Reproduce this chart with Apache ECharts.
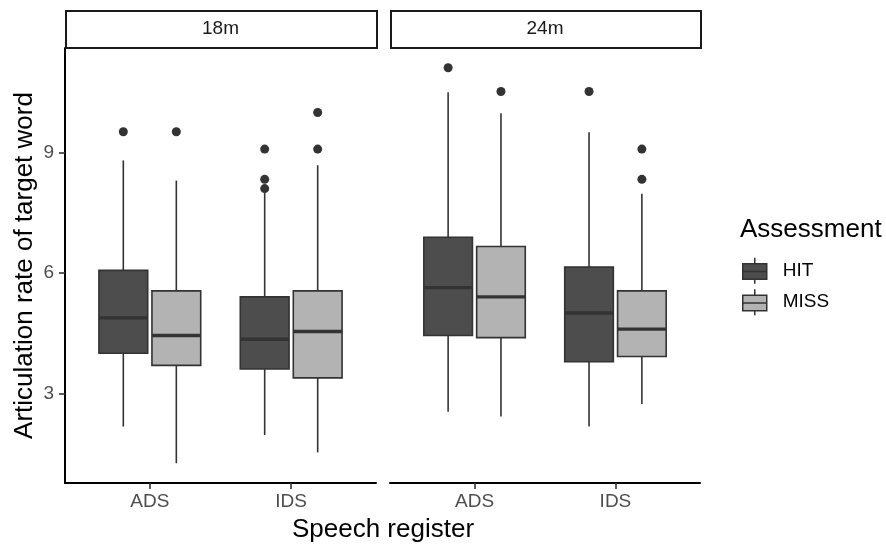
<!DOCTYPE html>
<html><head><meta charset="utf-8">
<script src="https://cdn.jsdelivr.net/npm/echarts@6/dist/echarts.min.js"></script>
<style>html,body{margin:0;padding:0;background:#fff}#c{width:886px;height:546px}</style>
</head><body><div id="c"></div>
<script>
// ---------- data ----------
const categories = ['ADS', 'IDS'];
const facets = ['18m', '24m'];
const groups = ['HIT', 'MISS'];
const yTicks = [3, 6, 9];
// box stats per category: [lower whisker, Q1, median, Q3, upper whisker]
const hit18m = [[2.19, 4.01, 4.89, 6.07, 8.80], [1.98, 3.62, 4.36, 5.41, 7.99]];
const miss18m = [[1.28, 3.71, 4.45, 5.56, 8.30], [1.55, 3.40, 4.55, 5.56, 8.68]];
const hit24m = [[2.56, 4.45, 5.64, 6.89, 10.49], [2.19, 3.80, 5.01, 6.15, 9.50]];
const miss24m = [[2.44, 4.40, 5.41, 6.66, 9.97], [2.75, 3.93, 4.61, 5.56, 7.97]];
// outliers: [category index, value]
const hitOut18m = [[0, 9.51], [1, 9.08], [1, 8.33], [1, 8.10]];
const missOut18m = [[0, 9.51], [1, 9.99], [1, 9.08]];
const hitOut24m = [[0, 11.10], [1, 10.51]];
const missOut24m = [[0, 10.51], [1, 9.08], [1, 8.33]];

// ---------- styles ----------
const FONT = "'Liberation Sans', Arial, sans-serif";
const FILL = { HIT: '#4D4D4D', MISS: '#B3B3B3' };
const LINE = '#333333';
const DODGE = 0.1875;   // half dodge width (category units)
const BOX_W = 0.345;    // box width (category units)

const stats = [[hit18m, miss18m], [hit24m, miss24m]];
const outs = [[hitOut18m, missOut18m], [hitOut24m, missOut24m]];

const allVals = [];
stats.forEach(f => f.forEach(g => g.forEach(s => allVals.push(...s))));
outs.forEach(f => f.forEach(g => g.forEach(o => allVals.push(o[1]))));
const vLo = Math.min(...allVals), vHi = Math.max(...allVals);
const pad = (vHi - vLo) * 0.05;
const yMin = vLo - pad, yMax = vHi + pad;

function makeRender(fill) {
  return function (params, api) {
    const x = api.value(0);
    const pLo = api.coord([x, api.value(1)]);
    const pQ1 = api.coord([x, api.value(2)]);
    const pMed = api.coord([x, api.value(3)]);
    const pQ3 = api.coord([x, api.value(4)]);
    const pHi = api.coord([x, api.value(5)]);
    const half = api.size([BOX_W, 0])[0] / 2;
    const cx = pMed[0];
    return {
      type: 'group',
      children: [
        { type: 'line', shape: { x1: cx, y1: pLo[1], x2: cx, y2: pQ1[1] }, style: { stroke: LINE, lineWidth: 1.6 } },
        { type: 'line', shape: { x1: cx, y1: pQ3[1], x2: cx, y2: pHi[1] }, style: { stroke: LINE, lineWidth: 1.6 } },
        { type: 'rect', shape: { x: cx - half, y: pQ3[1], width: half * 2, height: pQ1[1] - pQ3[1] }, style: { fill: fill, stroke: LINE, lineWidth: 1.6 } },
        { type: 'line', shape: { x1: cx - half, y1: pMed[1], x2: cx + half, y2: pMed[1] }, style: { stroke: LINE, lineWidth: 3.4 } }
      ]
    };
  };
}

const grids = [
  { left: 65, top: 48, width: 311, height: 435 },
  { left: 390, top: 48, width: 310, height: 435 }
];

const xAxes = facets.map((f, i) => ({
  type: 'value', gridIndex: i, min: 0.4, max: 2.6,
  axisLine: { show: true, onZero: false, lineStyle: { color: '#000', width: 2 } },
  axisTick: { show: true, customValues: [1, 2], length: 6, lineStyle: { color: LINE, width: 1.6 } },
  axisLabel: { show: true, customValues: [1, 2], margin: 9, fontSize: 19, color: '#4D4D4D', fontFamily: FONT,
    formatter: v => categories[Math.round(v) - 1] },
  splitLine: { show: false }
}));

const yAxes = facets.map((f, i) => ({
  type: 'value', gridIndex: i, min: yMin, max: yMax,
  name: i === 0 ? 'Articulation rate of target word' : '',
  nameLocation: 'middle', nameGap: 27,
  nameTextStyle: { fontSize: 26, color: '#000', fontFamily: FONT },
  axisLine: { show: i === 0, onZero: false, lineStyle: { color: '#000', width: 2 } },
  axisTick: { show: i === 0, customValues: yTicks, length: 6, lineStyle: { color: LINE, width: 1.6 } },
  axisLabel: { show: i === 0, customValues: yTicks, margin: 11, fontSize: 19, color: '#4D4D4D', fontFamily: FONT },
  splitLine: { show: false }
}));

const series = [];
facets.forEach((f, fi) => {
  groups.forEach((g, gi) => {
    const off = gi === 0 ? -DODGE : DODGE;
    series.push({
      name: g, type: 'custom', xAxisIndex: fi, yAxisIndex: fi, z: 2,
      renderItem: makeRender(FILL[g]),
      itemStyle: { color: FILL[g], borderColor: LINE },
      encode: { x: 0, y: [1, 2, 3, 4, 5] },
      data: stats[fi][gi].map((s, ci) => [ci + 1 + off].concat(s))
    });
  });
});
facets.forEach((f, fi) => {
  groups.forEach((g, gi) => {
    const off = gi === 0 ? -DODGE : DODGE;
    series.push({
      name: g, type: 'scatter', xAxisIndex: fi, yAxisIndex: fi, z: 3,
      symbol: 'circle', symbolSize: 9,
      itemStyle: { color: LINE, opacity: 1 },
      data: outs[fi][gi].map(o => [o[0] + 1 + off, o[1]])
    });
  });
});

const ICON = 'path://M12,0L12,6M0,6L24,6L24,21.5L0,21.5ZM0,13.7L24,13.7M12,21.5L12,26';

const graphic = [];
grids.forEach((g, i) => {
  graphic.push({
    type: 'rect', left: g.left, top: 10, z: 10,
    shape: { width: g.width, height: 37 },
    style: { fill: '#fff', stroke: '#1A1A1A', lineWidth: 2 }
  });
  graphic.push({
    type: 'text', x: g.left + g.width / 2, y: 29, z: 11,
    style: { text: facets[i], fill: '#1A1A1A', font: '19px ' + FONT, textAlign: 'center', textVerticalAlign: 'middle' }
  });
});
graphic.push({
  type: 'text', x: 383, y: 530, z: 11,
  style: { text: 'Speech register', fill: '#000', font: '26px ' + FONT, textAlign: 'center', textVerticalAlign: 'middle' }
});
graphic.push({
  type: 'text', x: 740, y: 230, z: 11,
  style: { text: 'Assessment', fill: '#000', font: '26px ' + FONT, textAlign: 'left', textVerticalAlign: 'middle' }
});

const chart = echarts.init(document.getElementById('c'), null, { renderer: 'canvas' });
chart.setOption({
  animation: false,
  backgroundColor: '#fff',
  textStyle: { fontFamily: FONT },
  grid: grids,
  xAxis: xAxes,
  yAxis: yAxes,
  legend: {
    orient: 'vertical', left: 742, top: 257, padding: 0,
    itemWidth: 24, itemHeight: 26, itemGap: 4,
    textStyle: { fontSize: 19, color: '#000', fontFamily: FONT, padding: [0, 0, 0, 11] },
    data: groups.map(g => ({ name: g, icon: ICON, itemStyle: { color: FILL[g], borderColor: LINE, borderWidth: 1.5 } }))
  },
  series: series,
  graphic: graphic
});
</script></body></html>
